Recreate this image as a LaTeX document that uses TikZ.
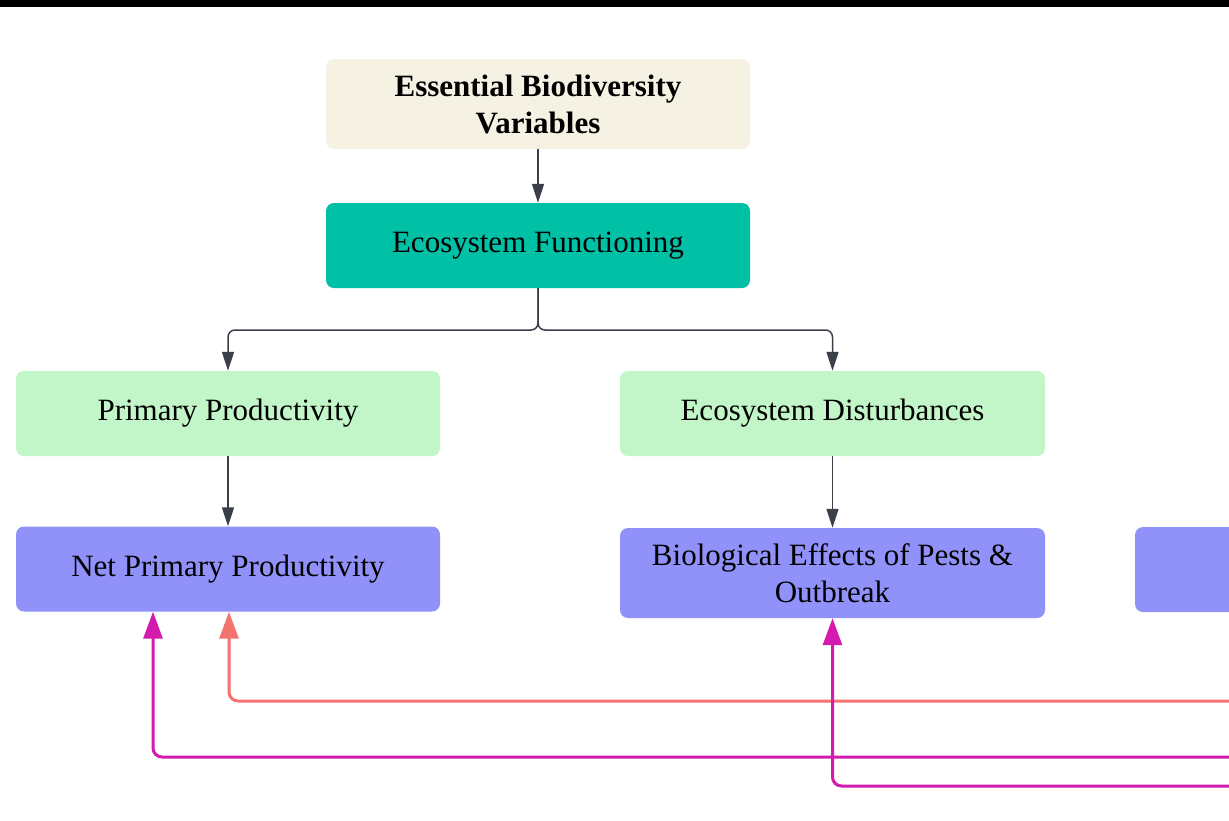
\documentclass[tikz,border=0pt]{standalone}
\usepackage{fontspec}
\setmainfont{Liberation Serif}
\usetikzlibrary{arrows.meta}
\definecolor{cream}{HTML}{F5F2E4}
\definecolor{teal1}{HTML}{00C0A6}
\definecolor{mint}{HTML}{C2F6C8}
\definecolor{lav}{HTML}{9191FA}
\definecolor{gline}{HTML}{3B3F4A}
\definecolor{salmon}{HTML}{F4736F}
\definecolor{magen}{HTML}{D41BAE}
\tikzset{
  box/.style={rounded corners=8pt, inner sep=0pt, align=center, text=black,
    font=\fontsize{31}{37}\selectfont},
  garrow/.style={draw=gline, line width=1.5pt, -{Triangle[length=19pt,width=12pt]}},
  carrow/.style={line width=3pt, rounded corners=9pt, -{Triangle[length=27pt,width=19pt]}}
}
\begin{document}
\begin{tikzpicture}[x=1pt,y=-1pt]
\clip (0,0) rectangle (1229,820);
\fill[white] (0,0) rectangle (1229,820);
\fill[black] (0,0) rectangle (1229,7);

\node[box, fill=cream, minimum width=424pt, minimum height=90pt, font=\fontsize{31}{37}\selectfont\bfseries] (ebv) at (538,104) {Essential Biodiversity\\Variables};
\node[box, fill=teal1, minimum width=424pt, minimum height=85pt] (ef) at (538,245.5) {Ecosystem Functioning};
\node[box, fill=mint, minimum width=424pt, minimum height=85pt] (pp) at (228,413.5) {Primary Productivity};
\node[box, fill=mint, minimum width=425pt, minimum height=85pt] (ed) at (832.5,413.5) {Ecosystem Disturbances};
\node[box, fill=lav, minimum width=424pt, minimum height=85pt] (npp) at (228,569) {Net Primary Productivity};
\node[box, fill=lav, minimum width=425pt, minimum height=90pt] (be) at (832.5,573) {Biological Effects of Pests \&\\Outbreak};
\node[box, fill=lav, minimum width=424pt, minimum height=85pt] (r) at (1347,569.5) {};

\coordinate (split) at (538,330);
\draw[garrow] (ebv.south) -- (ef.north);
\draw[garrow, rounded corners=7pt] (ef.south) |- (pp.north |- split) -- (pp.north);
\draw[garrow, rounded corners=7pt] (ef.south) |- (ed.north |- split) -- (ed.north);
\draw[garrow] (pp.south) -- (npp.south |- pp.south) -- (npp.north);
\draw[garrow] (ed.south) -- (be.north);

\coordinate (s1) at (1229,701);
\coordinate (m1) at (1229,757);
\coordinate (m2) at (1229,786);
\draw[carrow, draw=salmon, salmon] (s1) -| ([xshift=1pt]npp.south);
\draw[carrow, draw=magen, magen] (m1) -| ([xshift=-75pt]npp.south);
\draw[carrow, draw=magen, magen] (m2) -| (be.south);
\end{tikzpicture}
\end{document}
